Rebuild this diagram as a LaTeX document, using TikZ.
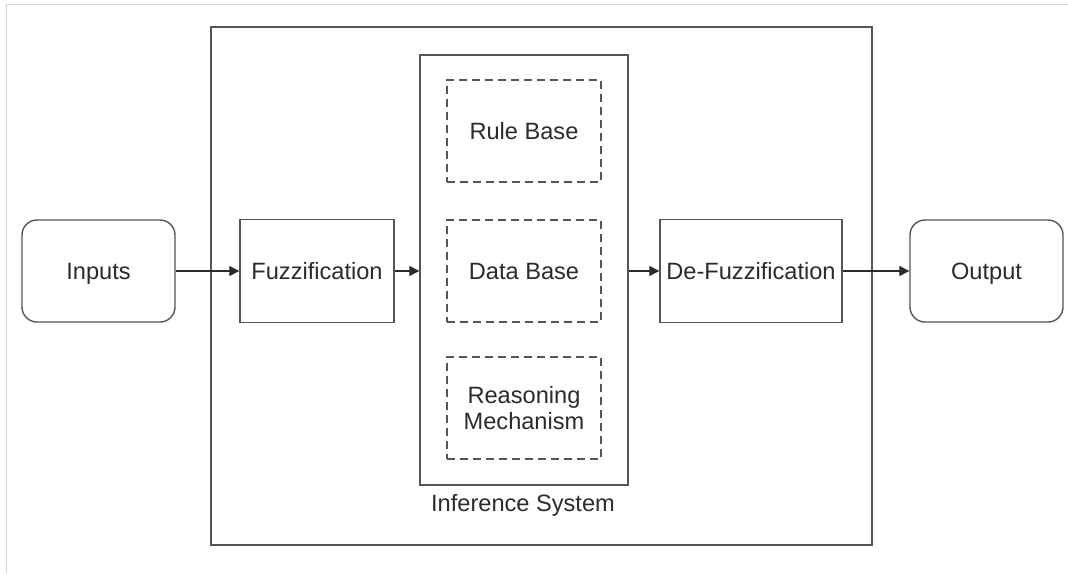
\documentclass[tikz,border=0pt]{standalone}
\usepackage{fontspec}
\setmainfont{Liberation Sans}
\usetikzlibrary{arrows.meta}
\definecolor{edge}{HTML}{555555}
\definecolor{ink}{HTML}{2B2B2B}
\definecolor{frame}{HTML}{D2D2D2}
\tikzset{
  box/.style={draw=edge, line width=1.4pt, inner sep=0pt, align=center,
              text=ink, font=\fontsize{23.6}{26}\selectfont},
  dbox/.style={box, dash pattern=on 8pt off 5pt},
  rbox/.style={box, rounded corners=15pt, text depth=0pt},
  arr/.style={draw=ink, line width=1.3pt, -{Triangle[length=10pt,width=10pt]}},
  lbl/.style={text=ink, font=\fontsize{23.6}{26}\selectfont, inner sep=0pt}
}
\begin{document}
\begin{tikzpicture}[x=1pt,y=-1pt]
\useasboundingbox (0,0) rectangle (1068,573);
\fill[white] (0,0) rectangle (1068,573);
% thin frame along the top and left
\draw[frame, line width=1.5pt] (6.5,573) -- (6.5,4.5) -- (1068,4.5);

% enclosing system and inference blocks
\node[box, minimum width=661pt, minimum height=518pt] (sys) at (541.5,286) {};
\node[box, minimum width=208pt, minimum height=430pt] (inf) at (524,270) {};
\node[dbox, minimum width=154pt, minimum height=102pt] (rule) at (524,131) {Rule Base};
\node[dbox, minimum width=154pt, minimum height=102pt] (data) at (524,271) {Data Base};
\node[dbox, minimum width=154pt, minimum height=102pt] (reason) at (524,408) {Reasoning\\Mechanism};
\node[lbl] (inflbl) at (523,505) {Inference System};

% processing chain
\node[rbox, minimum width=153pt, minimum height=102pt] (in) at (98.5,271) {Inputs};
\node[box, minimum width=154pt, minimum height=103pt] (fuzz) at (317,271) {Fuzzification};
\node[box, minimum width=182pt, minimum height=103pt] (defuzz) at (751,271) {De-Fuzzification};
\node[rbox, minimum width=153pt, minimum height=102pt] (out) at (986.5,271) {Output};

\draw[arr] (in.east) -- (fuzz.west);
\draw[arr] (fuzz.east) -- (fuzz.east -| inf.west);
\draw[arr] (defuzz.west -| inf.east) -- (defuzz.west);
\draw[arr] (defuzz.east) -- (out.west);
\end{tikzpicture}
\end{document}
